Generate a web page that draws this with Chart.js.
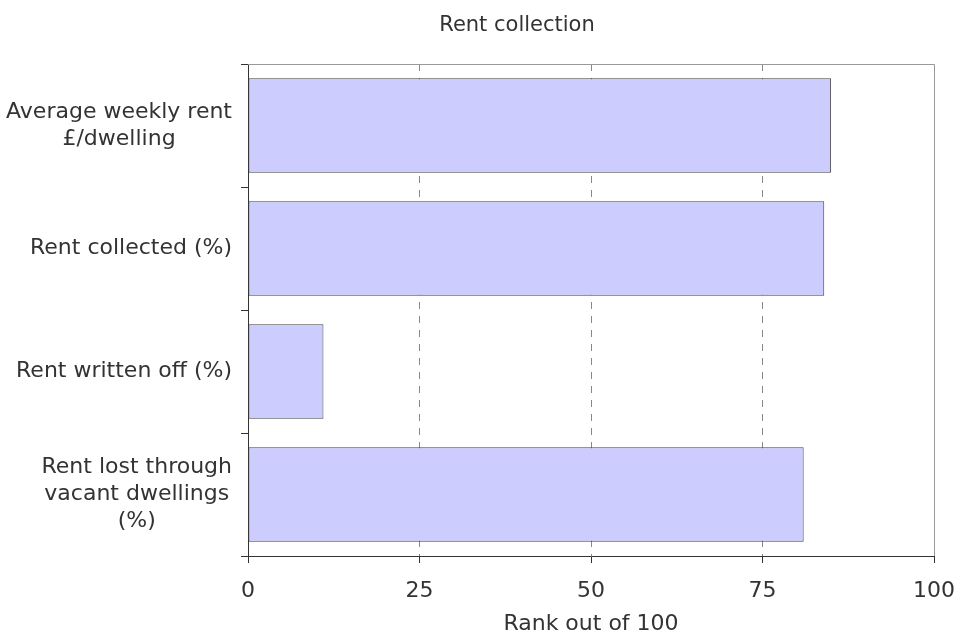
<!DOCTYPE html>
<html>
<head>
<meta charset="utf-8">
<script src="https://cdn.jsdelivr.net/npm/chart.js@4"></script>
<style>
  body { margin: 0; background: #fff; }
  canvas { display: block; }
</style>
</head>
<body>
<canvas id="rentChart" width="960" height="637"></canvas>
<script>
// Dane wykresu
const categories = [
  ["Average weekly rent", "£/dwelling"],
  ["Rent collected (%)"],
  ["Rent written off (%)"],
  ["Rent lost through", "vacant dwellings", "(%)"],
]
const rankValues = [85, 84, 11, 81]
const xTicks = [0, 25, 50, 75, 100]

const FONT = "'DejaVu Sans', Verdana, sans-serif"
const TEXT = "#333"

// Tytul, ramka i etykiety kategorii (linie wysrodkowane w bloku wyrownanym do prawej)
const extras = {
  id: "extras",
  afterDraw(chart) {
    const { ctx, chartArea } = chart
    const y = chart.scales.y
    ctx.save()
    // gorna i prawa krawedz
    ctx.strokeStyle = "#999"
    ctx.lineWidth = 1
    ctx.beginPath()
    ctx.moveTo(chartArea.left, chartArea.top + 0.5)
    ctx.lineTo(chartArea.right + 0.5, chartArea.top + 0.5)
    ctx.lineTo(chartArea.right + 0.5, chartArea.bottom)
    ctx.stroke()

    // tytul
    ctx.fillStyle = TEXT
    ctx.font = "21px " + FONT
    ctx.textAlign = "center"
    ctx.textBaseline = "alphabetic"
    ctx.fillText("Rent collection", 517, 31)

    // etykiety kategorii
    ctx.font = "22px " + FONT
    ctx.textBaseline = "middle"
    const lh = 27
    const rightEdge = y.right - 16
    categories.forEach((lines, i) => {
      const cy = y.getPixelForValue(i)
      const w = Math.max(...lines.map((l) => ctx.measureText(l).width))
      const cx = rightEdge - w / 2
      lines.forEach((l, j) => {
        ctx.fillText(l, cx, cy + (j - (lines.length - 1) / 2) * lh)
      })
    })
    ctx.restore()
  },
}

const config = {
  type: "bar",
  data: {
    labels: categories.map((c) => c.join(" ")),
    datasets: [
      {
        data: rankValues,
        backgroundColor: "#ccccff",
        borderColor: "#444",
        borderWidth: 1,
        borderSkipped: false,
        barPercentage: 0.77,
        categoryPercentage: 1,
      },
    ],
  },
  options: {
    indexAxis: "y",
    responsive: false,
    animation: false,
    layout: { padding: { top: 64, right: 26, left: 0, bottom: 0 } },
    plugins: {
      legend: { display: false },
      title: { display: false },
      tooltip: { enabled: false },
    },
    scales: {
      x: {
        min: 0,
        max: 100,
        afterBuildTicks: (axis) => {
          axis.ticks = xTicks.map((v) => ({ value: v }))
        },
        afterFit: (axis) => {
          axis.height = 81
          axis.paddingLeft = 0
          axis.paddingRight = 0
        },
        border: { color: "#333", width: 1, dash: [7, 7] },
        grid: {
          color: (c) =>
            c.tick && (c.tick.value === 0 || c.tick.value === 100)
              ? "rgba(0,0,0,0)"
              : "#888",
          tickColor: "#333",
          tickBorderDash: [],
          tickLength: 7,
        },
        ticks: {
          color: TEXT,
          font: { family: FONT, size: 22 },
          padding: 15,
          maxRotation: 0,
        },
        title: {
          display: true,
          text: "Rank out of 100",
          color: TEXT,
          font: { family: FONT, size: 22 },
          padding: { top: 0, bottom: 0 },
        },
      },
      y: {
        afterFit: (axis) => {
          axis.width = 248
        },
        border: { color: "#333", width: 1 },
        grid: {
          drawOnChartArea: false,
          tickColor: "#333",
          tickLength: 7,
        },
        ticks: { display: false },
      },
    },
  },
  plugins: [extras],
}

const rentChart = new Chart(document.getElementById("rentChart"), config)
</script>
</body>
</html>
